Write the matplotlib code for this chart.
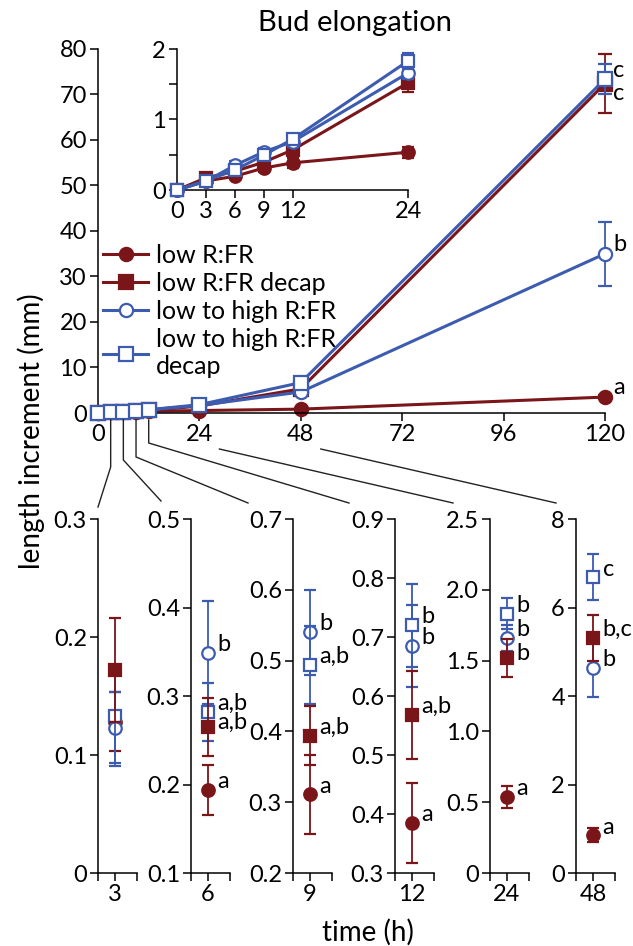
import matplotlib
matplotlib.use('Agg')
import matplotlib.pyplot as plt
from matplotlib.lines import Line2D

plt.rcParams['font.family'] = ['Lato', 'DejaVu Sans']
plt.rcParams['font.size'] = 17
plt.rcParams['axes.linewidth'] = 1.1

RED = '#7a1519'
BLUE = '#3d5cb0'

# data (mm)
times = [0, 3, 6, 9, 12, 24, 48, 120]
names = ['low R:FR', 'low R:FR decap', 'low to high R:FR', 'low to high R:FR\ndecap']

low_rfr = [0, 0.128, 0.194, 0.311, 0.385, 0.536, 0.85, 3.5]
low_rfr_err = [0, 0.025, 0.028, 0.056, 0.068, 0.08, 0.16, 0.5]
low_rfr_decap = [0, 0.172, 0.265, 0.394, 0.568, 1.52, 5.31, 72.4]
low_rfr_decap_err = [0, 0.044, 0.033, 0.042, 0.075, 0.135, 0.53, 6.5]
high_rfr = [0, 0.123, 0.349, 0.540, 0.685, 1.66, 4.63, 35.0]
high_rfr_err = [0, 0.03, 0.058, 0.06, 0.07, 0.09, 0.65, 7.0]
high_rfr_decap = [0, 0.133, 0.282, 0.494, 0.720, 1.83, 6.68, 73.4]
high_rfr_decap_err = [0, 0.042, 0.033, 0.055, 0.07, 0.11, 0.52, 3.3]

letters_120 = ['a', 'c', 'b', 'c']

panel_times = [3, 6, 9, 12, 24, 48]
panel_ylims = [(0, 0.3), (0.1, 0.5), (0.2, 0.7), (0.3, 0.9), (0, 2.5), (0, 8)]
panel_yticks = [[0, 0.1, 0.2, 0.3], [0.1, 0.2, 0.3, 0.4, 0.5],
                [0.2, 0.3, 0.4, 0.5, 0.6, 0.7], [0.3, 0.4, 0.5, 0.6, 0.7, 0.8, 0.9],
                [0, 0.5, 1.0, 1.5, 2.0, 2.5], [0, 2, 4, 6, 8]]
panel_yticklabels = [['0', '0.1', '0.2', '0.3'], ['0.1', '0.2', '0.3', '0.4', '0.5'],
                     ['0.2', '0.3', '0.4', '0.5', '0.6', '0.7'],
                     ['0.3', '0.4', '0.5', '0.6', '0.7', '0.8', '0.9'],
                     ['0', '0.5', '1.0', '1.5', '2.0', '2.5'], ['0', '2', '4', '6', '8']]
# letters: low R:FR, low R:FR decap, low to high, low to high decap
panel_letters = [['', '', '', ''],
                 ['a', 'a,b', 'b', 'a,b'],
                 ['a', 'a,b', 'b', 'a,b'],
                 ['a', 'a,b', 'b', 'b'],
                 ['a', 'b', 'b', 'b'],
                 ['a', 'b,c', 'b', 'c']]

values = [low_rfr, low_rfr_decap, high_rfr, high_rfr_decap]
errors = [low_rfr_err, low_rfr_decap_err, high_rfr_err, high_rfr_decap_err]
colors = [RED, RED, BLUE, BLUE]
markers = ['o', 's', 'o', 's']
filled = [True, True, False, False]
z_main = [2, 3, 4, 5]
z_panel = [2, 5, 3, 4]

W, H = 633, 946
fig = plt.figure(figsize=(W / 100, H / 100), dpi=100)


def box(x0, y0, x1, y1):
    # pixel box (top-left origin) -> figure fraction rect
    return [x0 / W, 1 - y1 / H, (x1 - x0) / W, (y1 - y0) / H]


def fpt(x, y):
    return x / W, 1 - y / H


def style(ax):
    ax.spines['top'].set_visible(False)
    ax.spines['right'].set_visible(False)
    ax.tick_params(direction='out', length=6, width=1.1, pad=2, labelsize=17)


def draw(ax, idx, ms, lw, cap, zorders):
    xs = [times[i] for i in idx]
    for k in range(4):
        ys = [values[k][i] for i in idx]
        es = [errors[k][i] for i in idx]
        c = ax.errorbar(xs, ys, yerr=es, color=colors[k], marker=markers[k], ms=ms,
                        mfc=colors[k] if filled[k] else 'white', mec=colors[k], mew=1.6,
                        lw=lw, elinewidth=1.3, capsize=cap, capthick=1.3,
                        zorder=zorders[k])
        for a in c.get_children():
            a.set_clip_on(False)


# main plot
ax = fig.add_axes(box(98, 49, 605, 413))
style(ax)
draw(ax, range(len(times)), 9.5, 2.2, 5, z_main)
ax.set_xlim(0, 120)
ax.set_ylim(0, 80)
ax.set_xticks([0, 24, 48, 72, 96, 120])
ax.set_yticks(range(0, 81, 10))
for k in range(4):
    dy = [7, -7, 7, 6][k]
    ax.annotate(letters_120[k], (120, values[k][-1]), xytext=(6, dy),
                textcoords='offset points', ha='left', va='center', fontsize=17)
handles = [Line2D([], [], color=colors[k], marker=markers[k], ms=9.5, lw=2.2, mew=1.6,
                  mfc=colors[k] if filled[k] else 'white', mec=colors[k]) for k in range(4)]
ax.legend(handles, names, loc='upper left', bbox_to_anchor=fpt(103, 244),
          bbox_transform=fig.transFigure, frameon=False, fontsize=18, borderpad=0,
          borderaxespad=0, handlelength=1.8, handletextpad=0.3, labelspacing=0.2)
fig.text(*fpt(355, 23), 'Bud elongation', fontsize=21, ha='center', va='center')

# inset
ins = fig.add_axes(box(177, 49, 408, 190))
style(ins)
draw(ins, range(6), 9, 2.2, 4, z_main)
ins.set_xlim(0, 24)
ins.set_ylim(0, 2)
ins.set_xticks([0, 3, 6, 9, 12, 24])
ins.set_yticks([0, 0.5, 1, 1.5, 2])
ins.set_yticklabels(['0', '', '1', '', '2'])

# bottom panels
lefts = [98, 191, 293, 395, 490, 576]
for p, t in enumerate(panel_times):
    i = times.index(t)
    pa = fig.add_axes(box(lefts[p], 519, lefts[p] + 39, 873))
    style(pa)
    draw(pa, [i], 9, 0, 4.5, z_panel)
    pa.set_xlim(t - 1, t + 1.3)
    pa.set_xticks([t - 1, t, t + 1.3])
    pa.set_xticklabels(['', str(t), ''])
    pa.set_ylim(*panel_ylims[p])
    pa.set_yticks(panel_yticks[p])
    pa.set_yticklabels(panel_yticklabels[p])
    for k in range(4):
        if panel_letters[p][k]:
            dy = 3 if (k == 1 and t in (6, 24)) else 6
            pa.annotate(panel_letters[p][k], (t, values[k][i]), xytext=(7, dy),
                        textcoords='offset points', ha='left', va='center', fontsize=17)

# connector lines from the main time axis to the panels
knees = [467, 460, 457, 443]
ends = [(98, 507), (161, 501), (248, 503), (349, 503), (453, 503), (556, 503)]
for p, t in enumerate(panel_times):
    tx = 98 + t / 120 * 507
    if t <= 12:
        pts = [(tx, 420), (tx, knees[p]), ends[p]]
    else:
        pts = [(tx + 20, 449), ends[p]]
    xs = [fpt(*q)[0] for q in pts]
    ys = [fpt(*q)[1] for q in pts]
    fig.add_artist(Line2D(xs, ys, color='#222222', lw=1.0, transform=fig.transFigure))

fig.text(*fpt(31, 431), 'length increment (mm)', rotation=90, fontsize=20,
         ha='center', va='center')
fig.text(*fpt(368, 932), 'time (h)', fontsize=20, ha='center', va='center')

fig.savefig('out.png', dpi=100)
